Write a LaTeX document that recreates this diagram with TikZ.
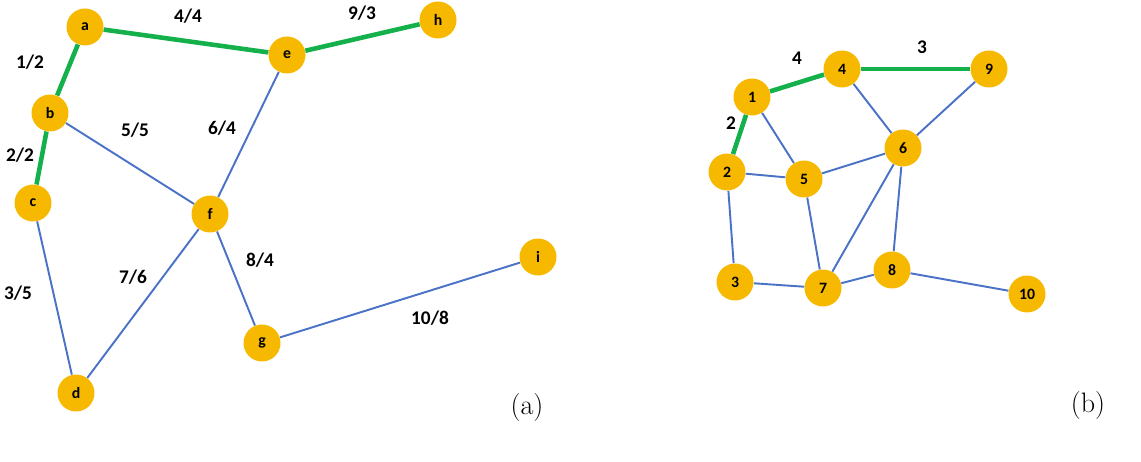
\documentclass[tikz,border=0pt]{standalone}
\usepackage{fontspec}
\setsansfont{Carlito}
\usetikzlibrary{positioning}
\definecolor{vgold}{HTML}{F7B900}
\definecolor{eblue}{HTML}{4A72C6}
\definecolor{egreen}{HTML}{14B04C}

\begin{document}
\begin{tikzpicture}[x=0.02cm, y=-0.02cm,
        V/.style={circle, fill=vgold, inner sep=0pt, minimum size=0.74cm, font=\sffamily\bfseries\fontsize{9}{9}\selectfont},
        E/.style={draw=eblue, line width=1.1pt},
        T/.style={draw=egreen, line width=2.6pt},
        W/.style={font=\sffamily\bfseries\fontsize{11}{11}\selectfont},
        ]
            \useasboundingbox (0,0) rectangle (1141,462);

            % graph (a)
            \node[V] (a) at (85, 27)  {a};
            \node[V] (b) at (50, 113) {b};
            \node[V] (c) at (33, 203) {c};
            \node[V] (d) at (76, 393) {d};
            \node[V] (e) at (287, 55) {e};
            \node[V] (f) at (210, 214) {f};
            \node[V] (g) at (262, 343) {g};
            \node[V] (h) at (438, 20) {h};
            \node[V] (i) at (538, 257) {i};

            \draw[T] (a) -- (e);
            \draw[T] (e) -- (h);
            \draw[T] (a) -- (b);
            \draw[T] (b) -- (c);
            \draw[E] (b) -- (f);
            \draw[E] (e) -- (f);
            \draw[E] (c) -- (d);
            \draw[E] (d) -- (f);
            \draw[E] (f) -- (g);
            \draw[E] (g) -- (i);

            \node[W] (w1) at (188, 16)  {4/4};
            \node[W] (w2) at (362, 13)  {9/3};
            \node[W] (w3) at (30, 62)   {1/2};
            \node[W] (w4) at (20, 155)  {2/2};
            \node[W] (w5) at (135, 130) {5/5};
            \node[W] (w6) at (222, 128) {6/4};
            \node[W] (w7) at (18, 293)  {3/5};
            \node[W] (w8) at (133, 277) {7/6};
            \node[W] (w9) at (260, 260) {8/4};
            \node[W] (w10) at (430, 318) {10/8};

            \node[font=\fontsize{16}{16}\selectfont] (capa) at (527, 407) {(a)};

            % graph (b)
            \node[V] (n1) at (752, 97)  {1};
            \node[V] (n2) at (727, 172) {2};
            \node[V] (n3) at (735, 282) {3};
            \node[V] (n4) at (842, 69)  {4};
            \node[V] (n5) at (804, 179) {5};
            \node[V] (n6) at (903, 148) {6};
            \node[V] (n7) at (823, 288) {7};
            \node[V] (n8) at (892, 270) {8};
            \node[V] (n9) at (989, 69)  {9};
            \node[V] (n10) at (1027, 294) {10};

            \draw[T] (n1) -- (n4);
            \draw[T] (n4) -- (n9);
            \draw[T] (n1) -- (n2);
            \draw[E] (n1) -- (n5);
            \draw[E] (n4) -- (n6);
            \draw[E] (n9) -- (n6);
            \draw[E] (n2) -- (n5);
            \draw[E] (n5) -- (n6);
            \draw[E] (n2) -- (n3);
            \draw[E] (n5) -- (n7);
            \draw[E] (n6) -- (n7);
            \draw[E] (n6) -- (n8);
            \draw[E] (n3) -- (n7);
            \draw[E] (n7) -- (n8);
            \draw[E] (n8) -- (n10);

            \node[W] (u1) at (797, 58)  {4};
            \node[W] (u2) at (922, 47)  {3};
            \node[W] (u3) at (731, 123) {2};

            \node[font=\fontsize{16}{16}\selectfont] (capb) at (1088, 405) {(b)};
        \end{tikzpicture}
\end{document}
